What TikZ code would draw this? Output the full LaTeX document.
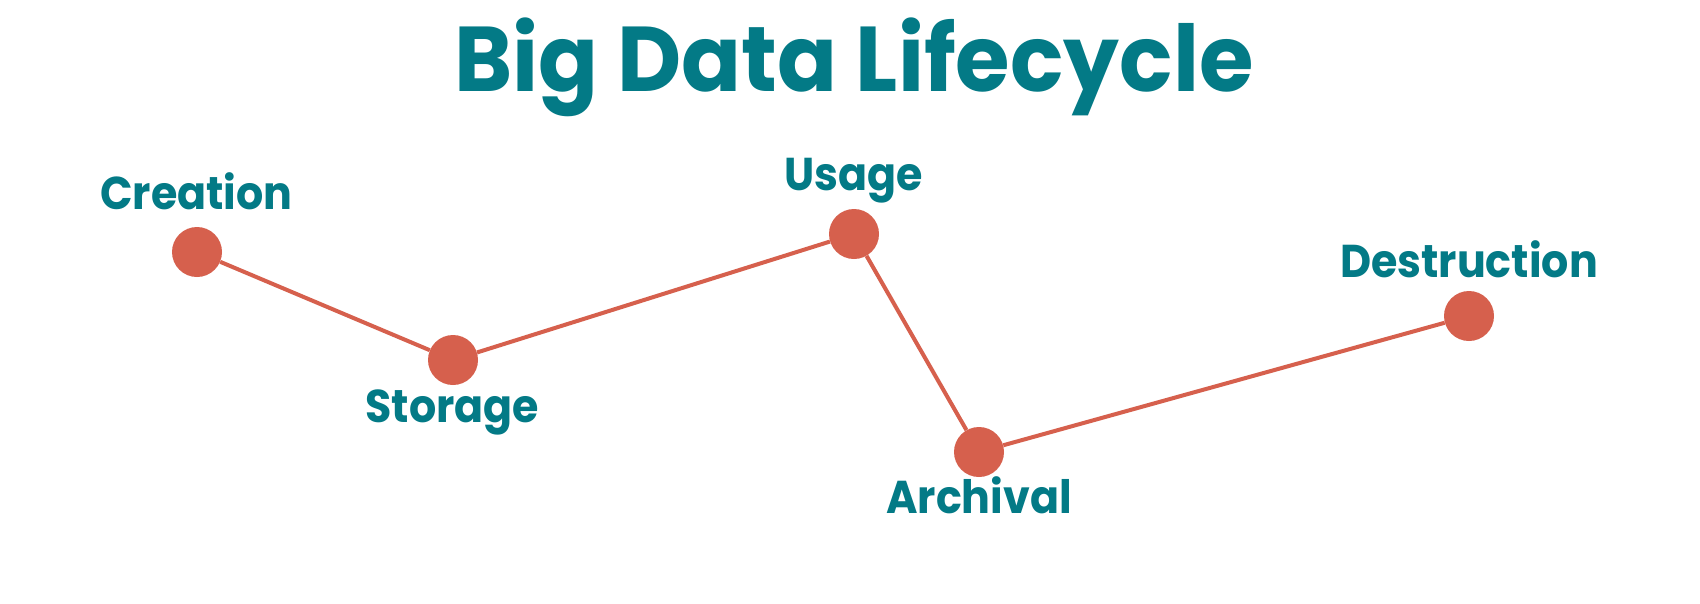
\documentclass[tikz,border=0pt]{standalone}
\usepackage{fontspec}
\setmainfont{Poppins}
\newfontfamily\titlefont{Poppins}[FakeStretch=0.96]
\newfontfamily\labelfont{Poppins}[FakeStretch=0.93]
\definecolor{teal}{HTML}{037A86}
\definecolor{dotred}{HTML}{D6604D}
\tikzset{
  dot/.style={circle,fill=dotred,minimum size=50pt,inner sep=0pt},
  link/.style={draw=dotred,line width=4pt},
  lbl/.style={text=teal,font=\labelfont\bfseries\fontsize{46}{46}\selectfont,anchor=base,inner sep=0pt},
  ttl/.style={text=teal,font=\titlefont\bfseries\fontsize{92}{92}\selectfont,anchor=base,inner sep=0pt}
}
\begin{document}
\begin{tikzpicture}[x=1pt,y=-1pt]
\useasboundingbox[fill=white] (0,0) rectangle (1700,603);
\node[ttl] (title) at (854,91.5) {Big Data Lifecycle};
\node[dot] (creation) at (197,252) {};
\node[dot] (storage) at (453,360) {};
\node[dot] (usage) at (854,234) {};
\node[dot] (archival) at (979,452) {};
\node[dot] (destruction) at (1469,316) {};
\draw[link] (creation) -- (storage) -- (usage) -- (archival) -- (destruction);
\node[lbl] (lcreation) at (196.5,209.6) {Creation};
\node[lbl] (lstorage) at (452.5,422) {Storage};
\node[lbl] (lusage) at (853.5,190.5) {Usage};
\node[lbl] (larchival) at (979,513) {Archival};
\node[lbl] (ldestruction) at (1469,277.7) {Destruction};
\end{tikzpicture}
\end{document}
